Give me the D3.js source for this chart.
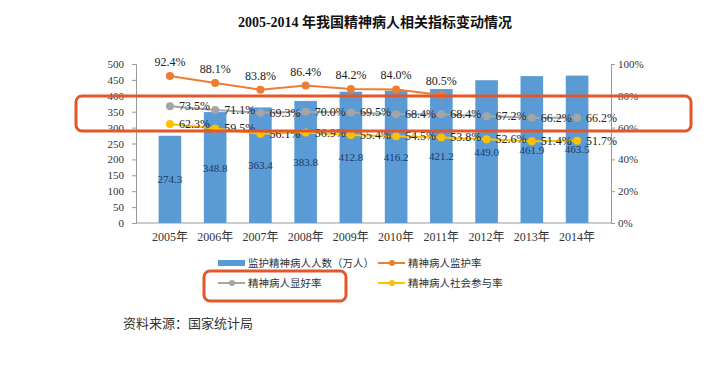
<!DOCTYPE html>
<html>
<head>
<meta charset="utf-8">
<script src="https://cdn.jsdelivr.net/npm/d3@7"></script>
<style>
  body { margin: 0; background: #fff; }
  svg { display: block; }
  .num { font-family: "Liberation Serif", "Noto Sans CJK SC", serif; }
  .cjk { font-family: "Noto Sans CJK SC", sans-serif; }
</style>
</head>
<body>
<svg id="chart" width="705" height="368"></svg>
<script>
// data
var years = ["2005年", "2006年", "2007年", "2008年", "2009年", "2010年", "2011年", "2012年", "2013年", "2014年"];
var patients = [274.3, 348.8, 363.4, 383.8, 412.8, 416.2, 421.2, 449.0, 461.9, 463.5];
var monitorRate = [92.4, 88.1, 83.8, 86.4, 84.2, 84.0, 80.5, null, null, null];
var improveRate = [73.5, 71.1, 69.3, 70.0, 69.5, 68.4, 68.4, 67.2, 66.2, 66.2];
var socialRate = [62.3, 59.5, 56.1, 56.9, 55.4, 54.5, 53.8, 52.6, 51.4, 51.7];
var leftTicks = [0, 50, 100, 150, 200, 250, 300, 350, 400, 450, 500];
var rightTicks = [0, 20, 40, 60, 80, 100];

var svg = d3.select("#chart");
var plotLeft = 136, plotRight = 611, plotTop = 64, plotBottom = 223;

var x = d3.scaleBand().domain(years).range([plotLeft, plotRight]).padding(0.5);
var yL = d3.scaleLinear().domain([0, 500]).range([plotBottom, plotTop]);
var yR = d3.scaleLinear().domain([0, 100]).range([plotBottom, plotTop]);

// title
svg.append("text")
  .attr("x", 375).attr("y", 27)
  .attr("text-anchor", "middle")
  .attr("class", "num")
  .style("font-size", "14px").style("font-weight", "bold").style("fill", "#111")
  .text("2005-2014 年我国精神病人相关指标变动情况");

// axes
var axL = svg.append("g").attr("transform", "translate(" + plotLeft + ",0)")
  .call(d3.axisLeft(yL).tickValues(leftTicks).tickSize(4).tickPadding(8));
var axR = svg.append("g").attr("transform", "translate(" + plotRight + ",0)")
  .call(d3.axisRight(yR).tickValues(rightTicks).tickSize(4).tickPadding(3).tickFormat(function(d){ return d + "%"; }));
[axL, axR].forEach(function(a) {
  a.select(".domain").attr("stroke", "#999");
  a.selectAll(".tick line").attr("stroke", "#999");
  a.selectAll(".tick text").attr("class", "num").style("font-size", "11px").style("fill", "#333");
});

svg.append("line")
  .attr("x1", plotLeft).attr("x2", plotRight).attr("y1", plotBottom).attr("y2", plotBottom)
  .attr("stroke", "#999");

svg.append("g").selectAll("text")
  .data(years).enter().append("text")
  .attr("class", "num")
  .attr("x", function(d){ return x(d) + x.bandwidth() / 2; })
  .attr("y", 241)
  .attr("text-anchor", "middle")
  .style("font-size", "12px").style("fill", "#333")
  .text(function(d){ return d; });

// bars
svg.append("g").selectAll("rect")
  .data(patients).enter().append("rect")
  .attr("x", function(d, i){ return x(years[i]); })
  .attr("y", function(d){ return yL(d); })
  .attr("width", x.bandwidth())
  .attr("height", function(d){ return plotBottom - yL(d); })
  .attr("fill", "#5B9BD5");

svg.append("g").selectAll("text")
  .data(patients).enter().append("text")
  .attr("class", "num")
  .attr("x", function(d, i){ return x(years[i]) + x.bandwidth() / 2; })
  .attr("y", function(d){ return (yL(d) + plotBottom) / 2 + 4; })
  .attr("text-anchor", "middle")
  .style("font-size", "11px").style("fill", "#1F3864")
  .text(function(d){ return d.toFixed(1); });

// lines
function cx(i) { return x(years[i]) + x.bandwidth() / 2; }

function drawSeries(values, color, labelPos) {
  var line = d3.line()
    .defined(function(d){ return d != null; })
    .x(function(d, i){ return cx(i); })
    .y(function(d){ return yR(d); });
  svg.append("path")
    .datum(values)
    .attr("d", line)
    .attr("fill", "none")
    .attr("stroke", color)
    .attr("stroke-width", 2);
  var pts = values.map(function(v, i){ return {v: v, i: i}; }).filter(function(p){ return p.v != null; });
  svg.append("g").selectAll("circle")
    .data(pts).enter().append("circle")
    .attr("cx", function(p){ return cx(p.i); })
    .attr("cy", function(p){ return yR(p.v); })
    .attr("r", 4)
    .attr("fill", color);
  svg.append("g").selectAll("text")
    .data(pts).enter().append("text")
    .attr("class", "num")
    .attr("x", function(p){ return labelPos == "top" ? cx(p.i) : cx(p.i) + 9; })
    .attr("y", function(p){ return labelPos == "top" ? yR(p.v) - 10 : yR(p.v) + 4; })
    .attr("text-anchor", labelPos == "top" ? "middle" : "start")
    .style("font-size", "12px").style("fill", "#222")
    .text(function(p){ return p.v.toFixed(1) + "%"; });
}

drawSeries(monitorRate, "#ED7D31", "top");
drawSeries(improveRate, "#A5A5A5", "right");
drawSeries(socialRate, "#FFC000", "right");

// legend
var legend = [
  {name: "监护精神病人人数（万人）", color: "#5B9BD5", bar: true, x: 218, y: 263},
  {name: "精神病人监护率", color: "#ED7D31", bar: false, x: 378, y: 263},
  {name: "精神病人显好率", color: "#A5A5A5", bar: false, x: 218, y: 283},
  {name: "精神病人社会参与率", color: "#FFC000", bar: false, x: 378, y: 283}
];
var lg = svg.append("g").selectAll("g").data(legend).enter().append("g")
  .attr("transform", function(d){ return "translate(" + d.x + "," + d.y + ")"; });
lg.filter(function(d){ return d.bar; }).append("rect")
  .attr("x", 0).attr("y", -3).attr("width", 27).attr("height", 6)
  .attr("fill", function(d){ return d.color; });
lg.filter(function(d){ return !d.bar; }).append("line")
  .attr("x1", 0).attr("x2", 27).attr("y1", 0).attr("y2", 0)
  .attr("stroke", function(d){ return d.color; }).attr("stroke-width", 2);
lg.filter(function(d){ return !d.bar; }).append("circle")
  .attr("cx", 14).attr("cy", 0).attr("r", 3)
  .attr("fill", function(d){ return d.color; });
lg.append("text")
  .attr("class", "cjk")
  .attr("x", 30).attr("y", 4)
  .style("font-size", "10.5px").style("fill", "#333")
  .text(function(d){ return d.name; });

// red highlight boxes
svg.append("rect")
  .attr("x", 76).attr("y", 96).attr("width", 615).attr("height", 35)
  .attr("rx", 6).attr("fill", "none").attr("stroke", "#E2572B").attr("stroke-width", 3);
svg.append("rect")
  .attr("x", 204).attr("y", 271).attr("width", 142).attr("height", 30)
  .attr("rx", 6).attr("fill", "none").attr("stroke", "#E2572B").attr("stroke-width", 3);

// source
svg.append("text")
  .attr("class", "cjk")
  .attr("x", 123).attr("y", 328)
  .style("font-size", "13px").style("fill", "#333")
  .text("资料来源：国家统计局");
</script>
</body>
</html>
